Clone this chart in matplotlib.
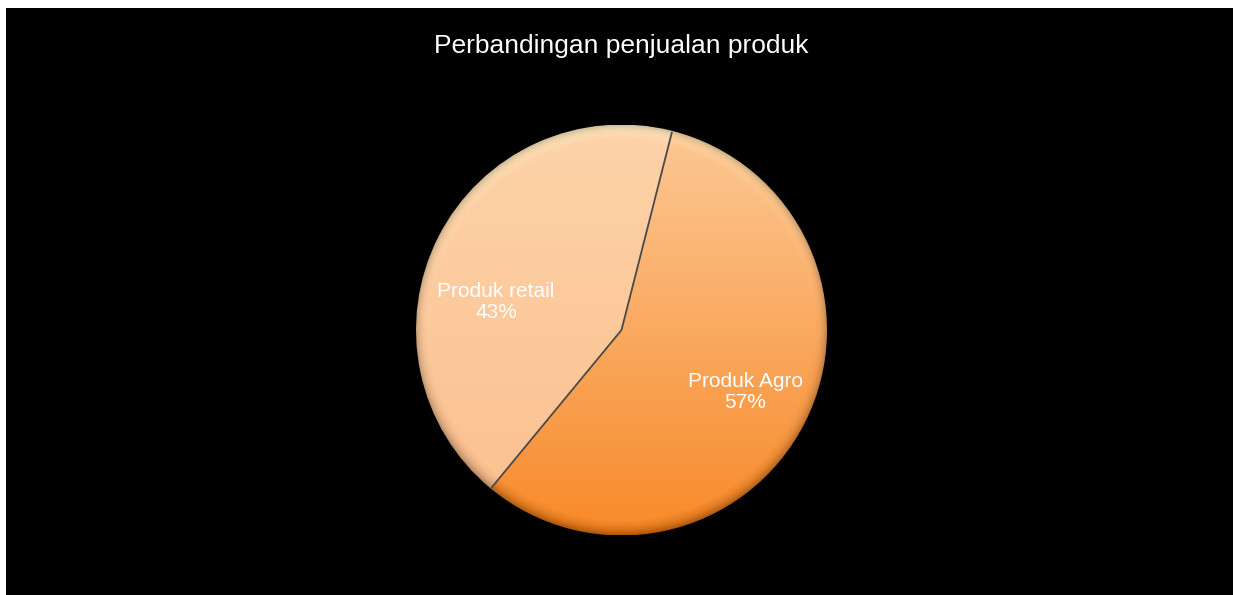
import numpy as np
import matplotlib
matplotlib.use("Agg")
import matplotlib.pyplot as plt
from matplotlib.patches import Rectangle
from matplotlib.colors import to_rgb

categories = ["Produk Agro", "Produk retail"]
values = [57, 43]
title = "Perbandingan penjualan produk"

W, H = 1233, 595
fig = plt.figure(figsize=(W / 100, H / 100), dpi=100, facecolor="white")
fig.patches.append(Rectangle((6 / W, 0), 1 - 6 / W, 1 - 8 / H, transform=fig.transFigure,
                             facecolor="black", edgecolor="none", zorder=-10))

cx, cy, R = 621.5, 330, 205.5
ax = fig.add_axes([(cx - R) / W, (H - cy - R) / H, 2 * R / W, 2 * R / H])
ax.set_facecolor("none")
ax.axis("off")

wedges, _ = ax.pie(values, startangle=75.7, counterclock=False, radius=1,
                   wedgeprops=dict(edgecolor="none", facecolor="none"))
ax.set_xlim(-1, 1)
ax.set_ylim(-1, 1)

n = 600
xs = np.linspace(-1, 1, n)
X, Y = np.meshgrid(xs, xs)
r = np.sqrt(X ** 2 + Y ** 2) + 1e-9
ny = Y / r
rim = np.clip((r - 0.93) / 0.07, 0, 1)


def grad(top, bottom):
    t = ((Y + 1) / 2)[..., None]
    img = np.array(to_rgb(bottom)) * (1 - t) + np.array(to_rgb(top)) * t
    shade = (rim * ny * 0.10)[..., None]
    img = np.clip(img + shade, 0, 1)
    dark = (rim ** 3 * 0.22)[..., None]
    img = img * (1 - dark)
    return img

grads = [grad("#fcc996", "#f88a2a"), grad("#fdd3a9", "#fbbf8e")]
for w, g in zip(wedges, grads):
    im = ax.imshow(g, extent=(-1, 1, -1, 1), origin="lower", zorder=1, interpolation="bilinear")
    im.set_clip_path(w)

# radial boundaries between slices
for w in wedges:
    th = np.deg2rad(w.theta1)
    ax.plot([0, np.cos(th) * 0.995], [0, np.sin(th) * 0.995], color="#4a4a4a", lw=1.3,
            zorder=2, solid_capstyle="butt")

label_pos = [((745.5 - cx) / R, (cy - 392) / R), ((496 - cx) / R, (cy - 302) / R)]
for cat, v, (lx, ly) in zip(categories, values, label_pos):
    ax.text(lx, ly, f"{cat}\n{v}%", ha="center", va="center", color="white",
            fontsize=15, family="Liberation Sans", linespacing=1.12, zorder=3)

fig.text(621 / W, 1 - 53 / H, title, ha="center", va="baseline", color="white",
         fontsize=19, family="Liberation Sans")

fig.savefig("out.png", dpi=100, facecolor="white")
